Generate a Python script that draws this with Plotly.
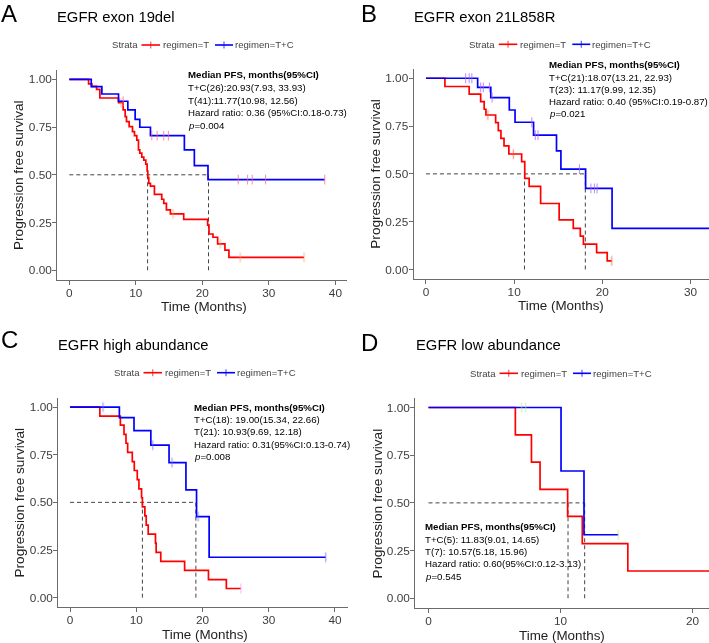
import plotly.graph_objects as go

FONT = "Liberation Sans, Arial, sans-serif"
W, H = 709, 643

# ---------------- data ----------------
# Panel A: EGFR exon 19del
A_T_time = [0, 2.9, 3.4, 4.1, 4.6, 7.4, 8.1, 8.4, 8.6, 9.0, 9.5, 9.8, 10.15, 10.4, 10.6, 10.9,
            11.2, 11.5, 11.7, 11.8, 11.95, 12.2, 12.8, 13.9, 14.2, 14.6, 15.2, 17.2, 20.8, 21.0,
            21.6, 22.3, 23.4, 24.0]
A_T_surv = [1, 0.976, 0.963, 0.947, 0.902, 0.878, 0.84, 0.805, 0.778, 0.752, 0.726, 0.705, 0.682,
            0.63, 0.613, 0.593, 0.577, 0.556, 0.52, 0.485, 0.455, 0.441, 0.398, 0.372, 0.35, 0.316,
            0.295, 0.267, 0.237, 0.19, 0.173, 0.138, 0.106, 0.068]
A_T_cens = [7.8, 15.6, 22.7, 25.7, 35.3]
A_TC_time = [0, 3.3, 4.9, 7.4, 8.8, 9.9, 10.6, 12.2, 17.3, 18.8, 20.85]
A_TC_surv = [1, 0.962, 0.923, 0.885, 0.84, 0.79, 0.749, 0.705, 0.63, 0.548, 0.475]
A_TC_cens = [8.1, 12.4, 13.2, 14.2, 14.9, 25.4, 26.8, 27.5, 29.5, 38.4]
A_median = [11.77, 20.93]

# Panel B: EGFR exon 21L858R
B_T_time = [0, 2.15, 4.9, 6.2, 6.6, 6.8, 7.9, 8.2, 8.5, 8.85, 9.4, 10.85, 11.2, 11.7, 13.0, 15.1,
            16.7, 17.5, 17.85, 19.35, 20.55]
B_T_surv = [1, 0.957, 0.917, 0.878, 0.838, 0.808, 0.768, 0.726, 0.686, 0.646, 0.604, 0.564, 0.477,
            0.435, 0.345, 0.26, 0.215, 0.175, 0.133, 0.088, 0.045]
B_T_cens = [7.0, 9.9, 21.05]
B_TC_time = [0, 5.86, 7.35, 9.45, 10.1, 12.2, 14.8, 15.3, 18.1, 21.1]
B_TC_surv = [1, 0.952, 0.899, 0.834, 0.77, 0.703, 0.62, 0.525, 0.424, 0.215]
B_TC_cens = [4.5, 4.9, 5.2, 6.2, 6.5, 7.2, 7.5, 12.0, 12.4, 12.7, 17.4, 18.7, 19.1, 19.4, 32.6]
B_median = [11.17, 18.07]

# Panel C: EGFR high abundance
C_T_time = [0, 4.5, 7.6, 8.15, 8.45, 8.7, 9.4, 9.7, 10.15, 10.4, 10.8, 10.93, 11.3, 11.5, 11.8,
            12.9, 13.0, 13.7, 17.3, 20.9, 23.6]
C_T_surv = [1, 0.952, 0.905, 0.857, 0.810, 0.762, 0.714, 0.667, 0.619, 0.571, 0.524, 0.476, 0.429,
            0.381, 0.333, 0.286, 0.238, 0.190, 0.143, 0.095, 0.048]
C_T_cens = [25.8]
C_TC_time = [0, 7.45, 9.66, 12.2, 14.95, 17.5, 19.1, 21.0]
C_TC_surv = [1, 0.944, 0.876, 0.80, 0.708, 0.565, 0.425, 0.212]
C_TC_cens = [5.0, 12.5, 15.4, 19.35, 38.6]
C_median = [10.93, 19.00]

# Panel D: EGFR low abundance
D_T_time = [0, 6.58, 7.8, 8.45, 10.54, 11.65, 15.1]
D_T_surv = [1, 0.857, 0.714, 0.571, 0.429, 0.286, 0.143]
D_T_cens = [21.9]
D_TC_time = [0, 10.04, 11.78]
D_TC_surv = [1, 0.667, 0.333]
D_TC_cens = [7.06, 7.36, 14.38]
D_median = [10.57, 11.83]

STRATA = ["regimen=T", "regimen=T+C"]
COLORS = ["#FF0000", "#0000FF"]
Y_TICKS = [0, 0.25, 0.5, 0.75, 1.0]
Y_TICKTEXT = ["0.00", "0.25", "0.50", "0.75", "1.00"]

A_text = ["<b>Median PFS, months(95%CI)</b>", "T+C(26):20.93(7.93, 33.93)",
          "T(41):11.77(10.98, 12.56)", "Hazard ratio: 0.36 (95%CI:0.18-0.73)", "<i>p</i>=0.004"]
B_text = ["<b>Median PFS, months(95%CI)</b>", "T+C(21):18.07(13.21, 22.93)",
          "T(23): 11.17(9.99, 12.35)", "Hazard ratio: 0.40 (95%CI:0.19-0.87)", "<i>p</i>=0.021"]
C_text = ["<b>Median PFS, months(95%CI)</b>", "T+C(18): 19.00(15.34, 22.66)",
          "T(21): 10.93(9.69, 12.18)", "Hazard ratio: 0.31(95%CI:0.13-0.74)", "<i>p</i>=0.008"]
D_text = ["<b>Median PFS, months(95%CI)</b>", "T+C(5): 11.83(9.01, 14.65)",
          "T(7): 10.57(5.18, 15.96)", "Hazard ratio: 0.60(95%CI:0.12-3.13)", "<i>p</i>=0.545"]

# ---------------- layout config (pixels) ----------------
panels = [
    dict(letter="A", title="EGFR exon 19del", series=[(A_T_time, A_T_surv, A_T_cens), (A_TC_time, A_TC_surv, A_TC_cens)],
         median=A_median, text=A_text, xdom=(57.3, 346.7), ydom=(69.75, 279.85), xrange=(-1.8, 41.7),
         xticks=[0, 10, 20, 30, 40], letter_xy=(1.2, 13.8), title_xy=(57.3, 16.7),
         legend_xy=(112.0, 45.0), text_xy=(187.7, 74.3), text_dy=12.9,
         xtitle_xy=(204.2, 306.9), ytitle_xy=(19.2, 174.8)),
    dict(letter="B", title="EGFR exon 21L858R", series=[(B_T_time, B_T_surv, B_T_cens), (B_TC_time, B_TC_surv, B_TC_cens)],
         median=B_median, text=B_text, xdom=(413.7, 709.0), ydom=(68.7, 279.06), xrange=(-1.39, 32.09),
         xticks=[0, 10, 20, 30], letter_xy=(361.2, 13.8), title_xy=(414.3, 16.7),
         legend_xy=(469.3, 44.3), text_xy=(549.3, 64.8), text_dy=12.3,
         xtitle_xy=(560.8, 305.9), ytitle_xy=(375.8, 173.9)),
    dict(letter="C", title="EGFR high abundance", series=[(C_T_time, C_T_surv, C_T_cens), (C_TC_time, C_TC_surv, C_TC_cens)],
         median=C_median, text=C_text, xdom=(58.3, 347.7), ydom=(397.5, 607.2), xrange=(-1.77, 41.92),
         xticks=[0, 10, 20, 30, 40], letter_xy=(1.2, 340.0), title_xy=(58.3, 345.0),
         legend_xy=(114.0, 372.7), text_xy=(194.3, 407.5), text_dy=12.2,
         xtitle_xy=(205.3, 634.5), ytitle_xy=(19.2, 502.3)),
    dict(letter="D", title="EGFR low abundance", series=[(D_T_time, D_T_surv, D_T_cens), (D_TC_time, D_TC_surv, D_TC_cens)],
         median=D_median, text=D_text, xdom=(415.3, 709.0), ydom=(397.96, 607.8), xrange=(-1.0, 21.25),
         xticks=[0, 10, 20], letter_xy=(361.2, 342.5), title_xy=(416.0, 345.0),
         legend_xy=(470.0, 373.3), text_xy=(425.0, 526.7), text_dy=12.4,
         xtitle_xy=(562.2, 635.2), ytitle_xy=(377.5, 502.9)),
]

# legend element offsets (px from the "Strata" label's left edge)
LEG_KEYS = [(29.5, 48.0), (103.0, 121.0)]
LEG_TEXT = [51.0, 122.5]


def px_x(x):
    return x / W


def px_y(y):
    return 1 - y / H


def step_xy(times, surv, cens):
    x = list(times)
    y = list(surv)
    last = max([times[-1]] + list(cens))
    if last > x[-1]:
        x.append(last)
        y.append(y[-1])
    return x, y


def surv_at(times, surv, t):
    s = surv[0]
    for ti, si in zip(times, surv):
        if ti <= t:
            s = si
    return s


def label(text, x, y, size, color="black", xanchor="left", angle=0):
    return dict(text=text, x=px_x(x), y=px_y(y), xref="paper", yref="paper",
                xanchor=xanchor, yanchor="middle", showarrow=False, borderpad=0, borderwidth=0,
                textangle=angle, font=dict(family=FONT, size=size, color=color))


fig = go.Figure()
annotations = []
shapes = []
layout = {}

for i, p in enumerate(panels):
    n = i + 1
    xa = "x" if n == 1 else f"x{n}"
    ya = "y" if n == 1 else f"y{n}"

    # median dashed lines
    med = p["median"]
    dash = dict(color="#444444", width=1, dash="4px,3px")
    fig.add_trace(go.Scatter(x=[0, max(med)], y=[0.5, 0.5], xaxis=xa, yaxis=ya, mode="lines",
                             line=dash, showlegend=False, hoverinfo="skip"))
    for m in med:
        fig.add_trace(go.Scatter(x=[m, m], y=[0, 0.5], xaxis=xa, yaxis=ya, mode="lines",
                                 line=dash, showlegend=False, hoverinfo="skip"))

    # KM curves
    for (times, surv, cens), col, name in zip(p["series"], COLORS, STRATA):
        sx, sy = step_xy(times, surv, cens)
        fig.add_trace(go.Scatter(x=sx, y=sy, xaxis=xa, yaxis=ya, mode="lines", line_shape="hv",
                                 line=dict(color=col, width=1.7), showlegend=False, name=name))
        cy = [surv_at(times, surv, c) for c in cens]
        fig.add_trace(go.Scatter(x=cens, y=cy, xaxis=xa, yaxis=ya, mode="markers",
                                 marker=dict(symbol="line-ns-open", size=7,
                                             line=dict(color=col, width=1.1)),
                                 opacity=0.7, showlegend=False, name=name))

    axis_common = dict(showgrid=False, zeroline=False, showline=True, linecolor="#6b6b6b",
                       linewidth=1.2, ticks="outside", ticklen=4, tickcolor="#6b6b6b", tickwidth=1.1,
                       ticklabelstandoff=-2,
                       tickfont=dict(family=FONT, size=11.8, color="#3d3d3d"))
    layout["xaxis" if n == 1 else f"xaxis{n}"] = dict(
        domain=[px_x(p["xdom"][0]), px_x(p["xdom"][1])], range=list(p["xrange"]),
        tickvals=p["xticks"], ticktext=[str(t) for t in p["xticks"]], anchor=ya, **axis_common)
    layout["yaxis" if n == 1 else f"yaxis{n}"] = dict(
        domain=[px_y(p["ydom"][1]), px_y(p["ydom"][0])], range=[-0.05, 1.05],
        tickvals=Y_TICKS, ticktext=Y_TICKTEXT, anchor=xa, **axis_common)

    # legend: "Strata" + keys
    lx, ly = p["legend_xy"]
    annotations.append(label("Strata", lx, ly, 9.6, "#444444"))
    for (k0, k1), tx, col, name in zip(LEG_KEYS, LEG_TEXT, COLORS, STRATA):
        shapes.append(dict(type="line", xref="paper", yref="paper",
                           x0=px_x(lx + k0), x1=px_x(lx + k1), y0=px_y(ly), y1=px_y(ly),
                           line=dict(color=col, width=1.6)))
        km = (k0 + k1) / 2
        shapes.append(dict(type="line", xref="paper", yref="paper", opacity=0.7,
                           x0=px_x(lx + km), x1=px_x(lx + km), y0=px_y(ly - 3.5), y1=px_y(ly + 3.5),
                           line=dict(color=col, width=1.1)))
        annotations.append(label(name, lx + tx, ly, 9.6, "#444444"))

    # panel letter and title
    annotations.append(label(p["letter"], p["letter_xy"][0], p["letter_xy"][1], 24))
    annotations.append(label(p["title"], p["title_xy"][0], p["title_xy"][1], 14.8))
    # axis titles
    annotations.append(label("Time (Months)", p["xtitle_xy"][0], p["xtitle_xy"][1], 13.4, "#222222", "center"))
    annotations.append(label("Progression free survival", p["ytitle_xy"][0], p["ytitle_xy"][1], 13.6,
                             "#222222", "center", -90))
    # median PFS text block
    for k, line in enumerate(p["text"]):
        annotations.append(label(line, p["text_xy"][0], p["text_xy"][1] + k * p["text_dy"], 9.7))

fig.update_layout(
    width=W, height=H, margin=dict(l=0, r=0, t=0, b=0, autoexpand=False),
    paper_bgcolor="white", plot_bgcolor="white", showlegend=False,
    font=dict(family=FONT), annotations=annotations, shapes=shapes, **layout)

fig.write_html("out.html", config={"displayModeBar": False},
               post_script="document.body.style.margin='0';document.body.style.padding='0';")
